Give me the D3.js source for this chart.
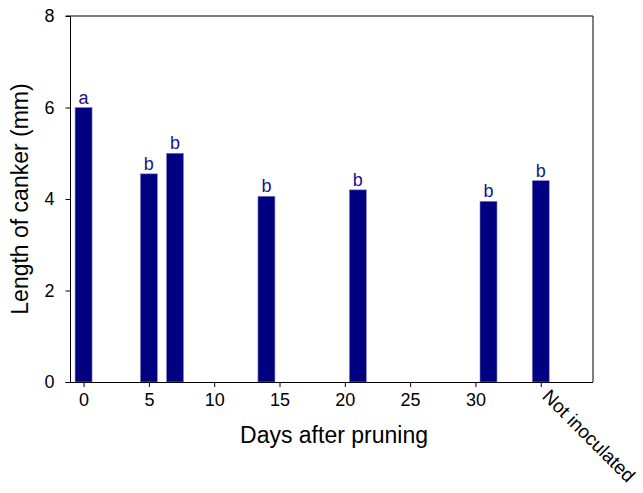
<!DOCTYPE html>
<html>
<head>
<script src="https://cdn.jsdelivr.net/npm/d3@7"></script>
<style>
body { margin: 0; background: #fff; }
text { font-family: "Liberation Sans", Arial, sans-serif; }
</style>
</head>
<body>
<svg width="643" height="493"></svg>
<script>

// data
var days = [0, 5, 7, 14, 21, 31, 35];
var canker = [6.0, 4.55, 5.0, 4.06, 4.2, 3.95, 4.4];
var letters = ["a", "b", "b", "b", "b", "b", "b"];
var xTicks = [0, 5, 10, 15, 20, 25, 30, 35];
var xTickLabels = ["0", "5", "10", "15", "20", "25", "30", "Not inoculated"];
var yTicks = [0, 2, 4, 6, 8];

var svg = d3.select("svg");
var mLeft = 70.5, mRight = 593, mTop = 16, mBottom = 382;

var x = d3.scaleLinear().domain([-1, 39]).range([mLeft, mRight]);
var y = d3.scaleLinear().domain([0, 8]).range([mBottom, mTop]);
var barW = 17;
var navy = "#000080";

// frame
svg.append("line").attr("x1", mLeft).attr("x2", mLeft).attr("y1", mTop).attr("y2", mBottom).attr("stroke", "#000");
svg.append("line").attr("x1", mRight).attr("x2", mRight).attr("y1", mTop).attr("y2", mBottom).attr("stroke", "#000");
svg.append("line").attr("x1", mLeft - 5).attr("x2", mRight).attr("y1", mTop).attr("y2", mTop).attr("stroke", "#000");

// bars
svg.append("g").selectAll("rect")
	.data(days)
	.enter().append("rect")
	.attr("x", function(d) { return x(d) - barW / 2; })
	.attr("width", barW)
	.attr("y", function(d, i) { return y(canker[i]); })
	.attr("height", function(d, i) { return mBottom - y(canker[i]); })
	.attr("fill", navy)
	.attr("stroke", "#8888c8")
	.attr("stroke-width", 0.6);

svg.append("g").selectAll("text")
	.data(days)
	.enter().append("text")
	.attr("x", function(d) { return x(d); })
	.attr("y", function(d, i) { return y(canker[i]) - 4; })
	.attr("text-anchor", "middle")
	.attr("font-size", "18px")
	.attr("fill", "#14148c")
	.text(function(d, i) { return letters[i]; });

// y axis
var yAxis = svg.append("g")
	.attr("transform", "translate(" + mLeft + ",0)")
	.call(d3.axisLeft(y).tickValues(yTicks).tickSize(5).tickPadding(11));
yAxis.select(".domain").remove();
yAxis.selectAll("text").attr("font-size", "18px").attr("fill", "#000").attr("font-family", "Liberation Sans, Arial, sans-serif");

// x axis
var xAxis = svg.append("g")
	.attr("transform", "translate(0," + mBottom + ")")
	.call(d3.axisBottom(x).tickValues(xTicks).tickSize(5).tickPadding(6)
		.tickFormat(function(d, i) { return xTickLabels[i]; }));
xAxis.select(".domain").attr("d", "M" + (mLeft - 5) + ",0.5H" + mRight);
xAxis.selectAll("text").attr("font-size", "18px").attr("fill", "#000").attr("font-family", "Liberation Sans, Arial, sans-serif");
xAxis.selectAll(".tick").filter(function(d) { return d === 35; }).select("text")
	.attr("text-anchor", "start")
	.attr("dy", "0")
	.attr("x", 11)
	.attr("y", 11)
	.attr("font-size", "19px")
	.attr("transform", "rotate(45)");

// titles
svg.append("text")
	.attr("x", 334)
	.attr("y", 443)
	.attr("text-anchor", "middle")
	.attr("font-size", "23px")
	.text("Days after pruning");

svg.append("text")
	.attr("transform", "translate(28," + ((mTop + mBottom) / 2) + ") rotate(-90)")
	.attr("text-anchor", "middle")
	.attr("font-size", "23px")
	.text("Length of canker (mm)");

</script>
</body>
</html>
